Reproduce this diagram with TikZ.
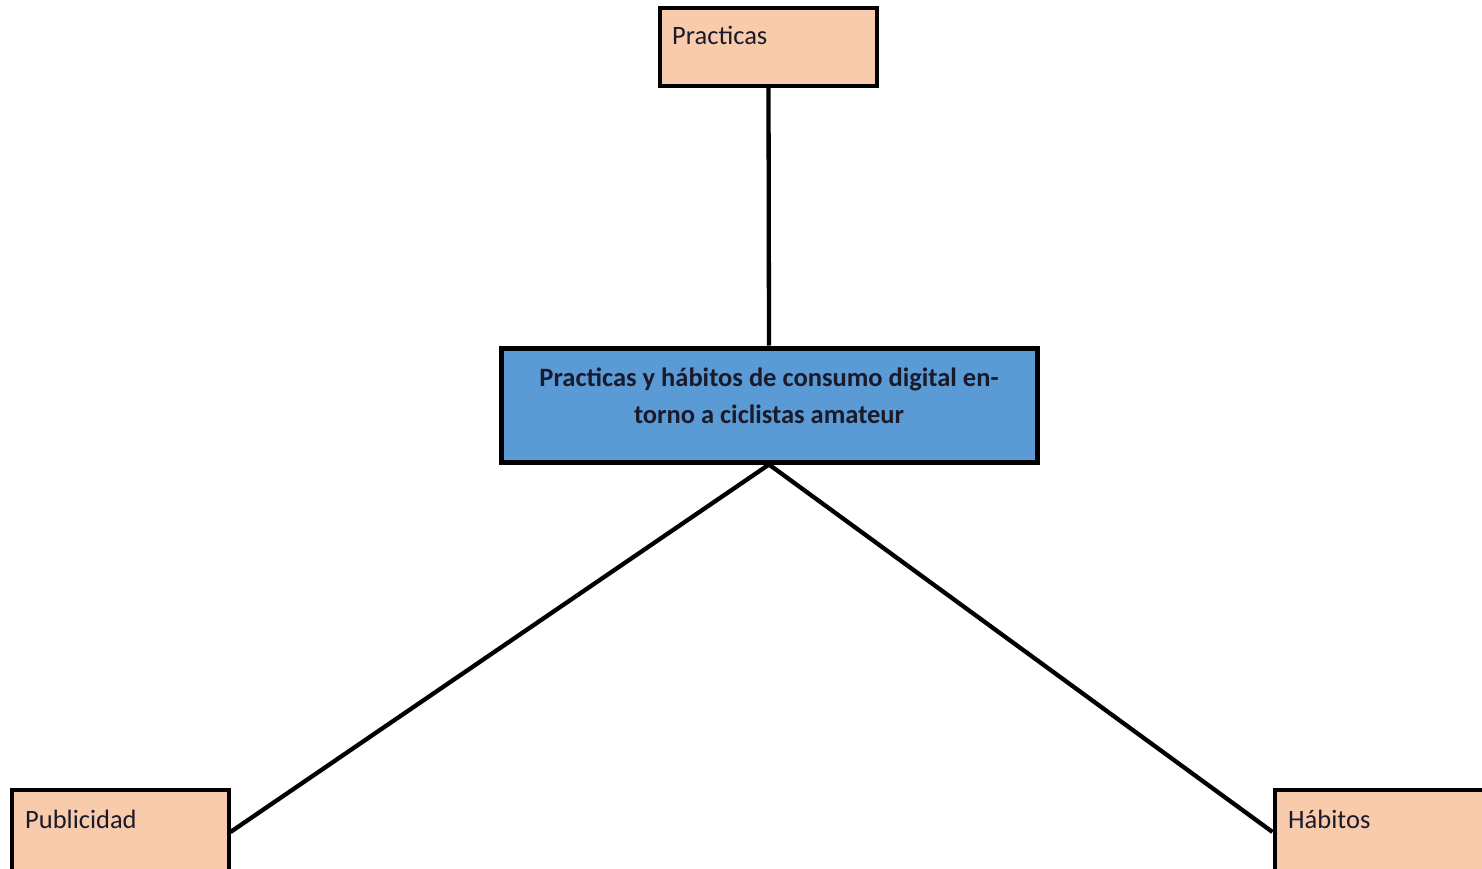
\documentclass[tikz,border=0pt]{standalone}
\usepackage{fontspec}
\setmainfont{Carlito}
\definecolor{peach}{HTML}{F8CBAD}
\definecolor{topicblue}{HTML}{5B9BD5}
\definecolor{ink}{HTML}{1A1A2A}
\begin{document}
\begin{tikzpicture}[x=1pt,y=-1pt,
  leaf/.style={draw=black,line width=4pt,fill=peach,rectangle,inner sep=0pt,
    minimum width=217pt,minimum height=78pt},
  core/.style={draw=black,line width=5pt,fill=topicblue,rectangle,inner sep=0pt,
    minimum width=536pt,minimum height=114pt},
  tag/.style={anchor=base west,inner sep=0pt,text=ink,font=\fontsize{26.5}{31}\selectfont},
  heading/.style={anchor=base,inner sep=0pt,text=ink,font=\fontsize{26.5}{31}\selectfont\bfseries},
  link/.style={draw=black,line width=4.3pt}]
\useasboundingbox (0,0) rectangle (1482,869);
\clip (0,0) rectangle (1482,869);
\fill[white] (0,0) rectangle (1482,869);

% boxes
\node[leaf] (prac) at (768.5,47) {};
\node[core] (main) at (769,405) {};
\node[leaf,minimum height=84pt] (publ) at (120,832) {};
\node[leaf,minimum height=84pt] (habi) at (1383,832) {};

% connectors
\draw[link] (prac.south) -- (main.north);
\draw[link] (main.south) -- (publ.east);
\draw[link] (main.south) -- (habi.west);

% labels
\node[tag] (tprac) at (672,45) {Practicas};
\node[tag] (tpubl) at (25,828) {Publicidad};
\node[tag] (thabi) at (1288,828) {Hábitos};
\node[heading] (tmain1) at (769,386) {Practicas y hábitos de consumo digital en-};
\node[heading] (tmain2) at (769,423) {torno a ciclistas amateur};
\end{tikzpicture}
\end{document}
